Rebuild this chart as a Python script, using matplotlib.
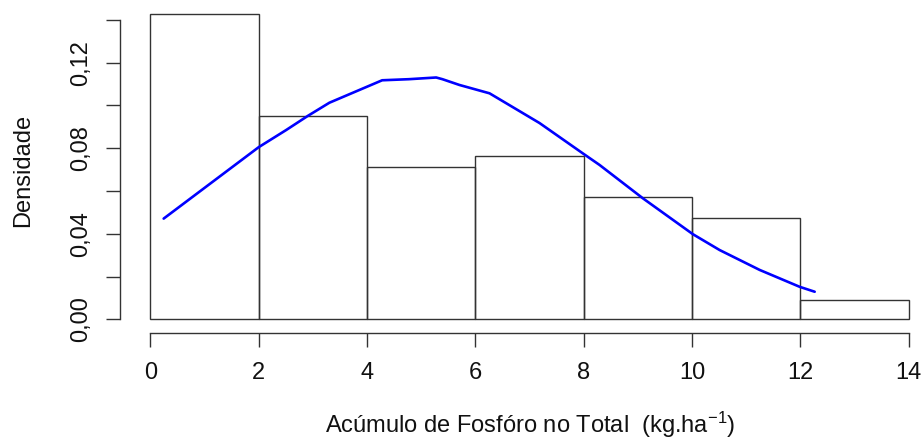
import numpy as np
import matplotlib
matplotlib.use("Agg")
import matplotlib.pyplot as plt
from matplotlib.ticker import FixedLocator

plt.rcParams['font.family'] = ['Liberation Sans', 'DejaVu Sans']
plt.rcParams['mathtext.fontset'] = 'custom'
plt.rcParams['mathtext.rm'] = 'Liberation Sans'
plt.rcParams['mathtext.it'] = 'Liberation Sans'

# Histogram (density scale)
bin_edges = [0, 2, 4, 6, 8, 10, 12, 14]
densities = [0.143, 0.095, 0.0712, 0.0762, 0.0571, 0.0472, 0.0092]

# Fitted normal density evaluated along the data
curve_x = [0.246, 2.000, 2.506, 2.905, 3.306, 4.280, 4.771, 5.277, 5.393,
           5.707, 6.262, 7.185, 7.985, 8.293, 9.093, 10.017, 10.510, 11.249,
           11.988, 12.265]
curve_y = [0.0471, 0.0805, 0.0885, 0.0951, 0.1013, 0.1118, 0.1123, 0.1131,
           0.1123, 0.1096, 0.1057, 0.0918, 0.0776, 0.0722, 0.0566, 0.0398,
           0.0324, 0.0231, 0.0152, 0.0129]

x_ticks = [0, 2, 4, 6, 8, 10, 12, 14]
y_ticks = [0.00, 0.02, 0.04, 0.06, 0.08, 0.10, 0.12, 0.14]
y_labels = ["0,00", "", "0,04", "", "0,08", "", "0,12", ""]

W, H = 924, 441
fig = plt.figure(figsize=(W / 100, H / 100), dpi=100)
left, right, bottom, top = 120, 939, 333, 8
ax = fig.add_axes([left / W, 1 - bottom / H, (right - left) / W, (bottom - top) / H])

edge_col = "#333333"
lefts = np.array(bin_edges[:-1])
widths = np.diff(bin_edges)
ax.bar(lefts, densities, width=widths, align="edge", fill=False,
       edgecolor=edge_col, linewidth=1.0)
ax.plot(curve_x, curve_y, color="#0000FF", linewidth=1.9, solid_capstyle="round")

ax.set_xlim(-0.56, 14.56)
ax.set_ylim(-0.0064, 0.1456)

for s in ("top", "right"):
    ax.spines[s].set_visible(False)
ax.spines["left"].set_bounds(0, 0.14)
ax.spines["bottom"].set_bounds(0, 14)
for s in ("left", "bottom"):
    ax.spines[s].set_color(edge_col)
    ax.spines[s].set_linewidth(1.0)

ax.xaxis.set_major_locator(FixedLocator(x_ticks))
ax.set_xticklabels([str(t) for t in x_ticks])
ax.yaxis.set_major_locator(FixedLocator(y_ticks))
ax.set_yticklabels(y_labels, rotation=90, va="center")

ax.tick_params(axis="both", direction="out", length=10, width=1.0,
               color=edge_col, labelsize=17, labelcolor="#111111")
ax.tick_params(axis="x", pad=11)
ax.tick_params(axis="y", pad=10)

ax.set_xlabel(r"Acúmulo de Fosfóro no Total  (kg.ha$^{-1}$)", fontsize=17,
              color="#111111", va="baseline")
ax.xaxis.set_label_coords((530 - left) / (right - left), (bottom - 433) / (bottom - top))
ax.set_ylabel("Densidade", fontsize=17, color="#111111", va="center")
ax.yaxis.set_label_coords((23 - left) / (right - left), 0.5)

fig.savefig("out.png", dpi=100)
